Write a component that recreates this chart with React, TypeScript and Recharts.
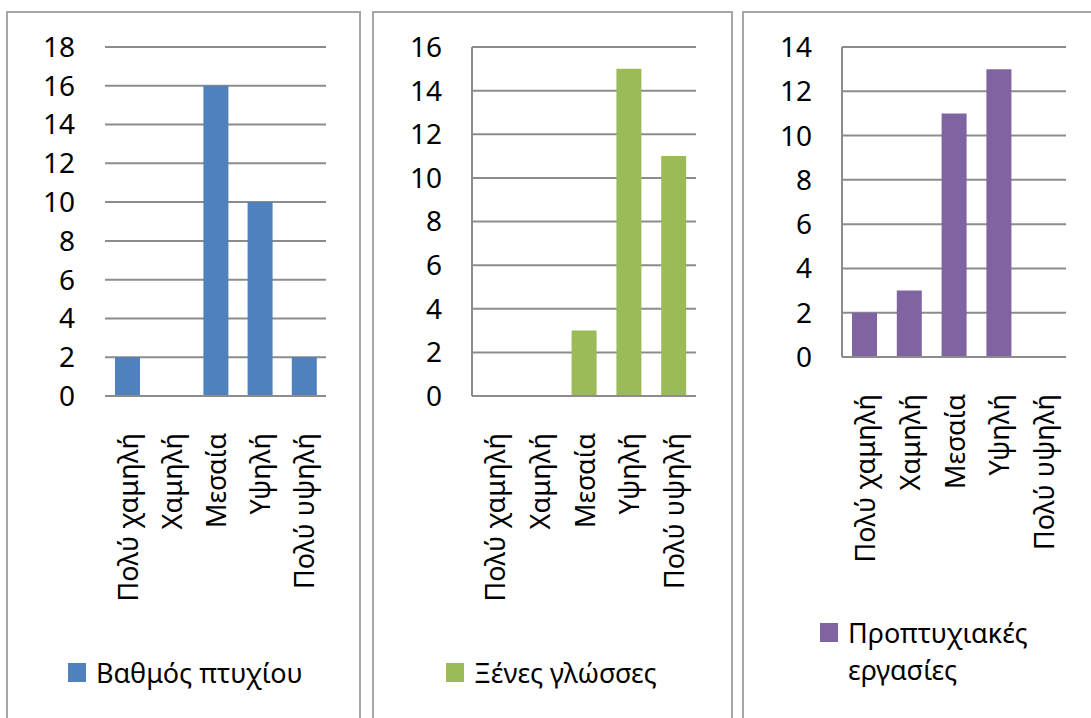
import React from 'react';
import { BarChart, Bar, XAxis, YAxis, CartesianGrid, Legend } from 'recharts';

const categories = ['Πολύ χαμηλή', 'Χαμηλή', 'Μεσαία', 'Υψηλή', 'Πολύ υψηλή'];
const degreeGrade = [2, 0, 16, 10, 2];
const foreignLanguages = [0, 0, 3, 15, 11];
const undergradProjects = [2, 3, 11, 13, 0];

const ticks1 = [0, 2, 4, 6, 8, 10, 12, 14, 16, 18];
const ticks2 = [0, 2, 4, 6, 8, 10, 12, 14, 16];
const ticks3 = [0, 2, 4, 6, 8, 10, 12, 14];

const seriesNames = ['Βαθμός πτυχίου', 'Ξένες γλώσσες', 'Προπτυχιακές εργασίες'];
const colors = ['#4F81BD', '#9BBB59', '#8064A2'];

const FONT = '"Noto Sans", "DejaVu Sans", sans-serif';
const GRID = '#8c8c8c';

const toRows = (values: number[]) => categories.map((c, i) => ({ name: c, value: values[i] }));

const RotTick = (props: any) => {
  const { x, y, payload } = props;
  return (
    <g transform={`translate(${x},${y})`}>
      <text
        transform="rotate(-90)"
        textAnchor="end"
        dominantBaseline="central"
        fontSize={27}
        fill="#000"
        fontFamily={FONT}
      >
        {payload.value}
      </text>
    </g>
  );
};

const makeLegend = (height: number, textWidth?: number) => (props: any) => {
  const { payload } = props;
  return (
    <div style={{ height, display: 'flex', alignItems: textWidth ? 'flex-start' : 'center' }}>
      {(payload || []).map((p: any) => (
        <div key={p.value} style={{ display: 'flex', alignItems: textWidth ? 'flex-start' : 'center' }}>
          <div
            style={{
              width: 18,
              height: 19,
              background: p.color,
              marginTop: textWidth ? 9 : 0,
              flex: '0 0 auto',
            }}
          />
          <div
            style={{
              marginLeft: 10,
              fontFamily: FONT,
              fontSize: 27,
              lineHeight: '37px',
              color: '#000',
              width: textWidth,
              whiteSpace: textWidth ? 'normal' : 'nowrap',
            }}
          >
            {p.value}
          </div>
        </div>
      ))}
    </div>
  );
};

type PanelProps = {
  left: number;
  width: number;
  values: number[];
  ticks: number[];
  color: string;
  name: string;
  margin: { top: number; right: number; bottom: number; left: number };
  xHeight: number;
  showYLine: boolean;
  legendLeft: number;
  legendHeight: number;
  legendTextWidth?: number;
};

const Panel = (p: PanelProps) => (
  <div style={{ position: 'absolute', left: p.left, top: 0 }}>
    <BarChart width={p.width} height={718} data={toRows(p.values)} margin={p.margin} barSize={25}>
      <CartesianGrid vertical={false} stroke={GRID} strokeWidth={2} />
      <XAxis
        dataKey="name"
        interval={0}
        height={p.xHeight}
        tickLine={false}
        tickSize={0}
        tickMargin={37}
        tick={<RotTick />}
        axisLine={{ stroke: GRID, strokeWidth: 2 }}
      />
      <YAxis
        width={60}
        domain={[0, p.ticks[p.ticks.length - 1]]}
        ticks={p.ticks}
        interval={0}
        tickLine={false}
        tickSize={0}
        tickMargin={30}
        axisLine={p.showYLine ? { stroke: GRID, strokeWidth: 2 } : false}
        tick={{ fontSize: 28, fill: '#000', fontFamily: FONT }}
      />
      <Legend
        verticalAlign="bottom"
        align="left"
        content={makeLegend(p.legendHeight, p.legendTextWidth)}
        wrapperStyle={{ left: p.legendLeft, width: 300 }}
      />
      <Bar dataKey="value" name={p.name} fill={p.color} isAnimationActive={false} />
    </BarChart>
  </div>
);

const border = '2px solid #a6a6a6';

export default function App() {
  return (
    <div
      style={{
        position: 'absolute',
        left: 0,
        top: 0,
        width: 1091,
        height: 718,
        overflow: 'hidden',
        background: '#fff',
      }}
    >
      <div style={{ position: 'absolute', left: 6, top: 11, width: 351, height: 720, border }} />
      <div style={{ position: 'absolute', left: 372, top: 11, width: 357, height: 720, border }} />
      <div style={{ position: 'absolute', left: 742, top: 11, width: 360, height: 720, border }} />
      <Panel
        left={0}
        width={361}
        values={degreeGrade}
        ticks={ticks1}
        color={colors[0]}
        name={seriesNames[0]}
        margin={{ top: 47, right: 35, bottom: 26, left: 45 }}
        xHeight={256}
        showYLine={false}
        legendLeft={68}
        legendHeight={40}
      />
      <Panel
        left={372}
        width={361}
        values={foreignLanguages}
        ticks={ticks2}
        color={colors[1]}
        name={seriesNames[1]}
        margin={{ top: 47, right: 37, bottom: 26, left: 40 }}
        xHeight={256}
        showYLine={true}
        legendLeft={74}
        legendHeight={40}
      />
      <Panel
        left={742}
        width={360}
        values={undergradProjects}
        ticks={ticks3}
        color={colors[2]}
        name={seriesNames[2]}
        margin={{ top: 47, right: 36, bottom: 28, left: 40 }}
        xHeight={257}
        showYLine={true}
        legendLeft={78}
        legendHeight={76}
        legendTextWidth={200}
      />
    </div>
  );
}
